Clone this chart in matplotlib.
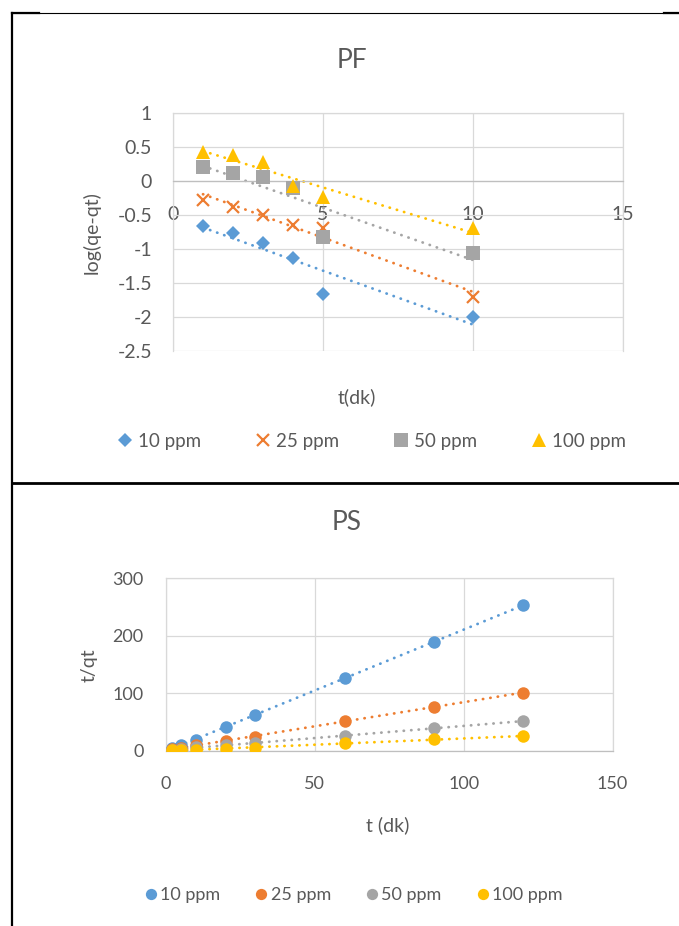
#!/usr/bin/env python3
"""PF / PS kinetik grafikleri (log(qe-qt) ve t/qt)."""

import numpy as np
import matplotlib
matplotlib.use("Agg")
import matplotlib.pyplot as plt
from matplotlib.lines import Line2D

# --- veri -------------------------------------------------------------
series_names = ["10 ppm", "25 ppm", "50 ppm", "100 ppm"]
series_colors = ["#5B9BD5", "#ED7D31", "#A5A5A5", "#FFC000"]

# PF: log(qe-qt) vs t
pf_t = [1, 2, 3, 4, 5, 10]
pf_10 = [-0.66, -0.76, -0.92, -1.13, -1.66, -2.0]
pf_25 = [-0.28, -0.38, -0.50, -0.65, -0.70, -1.70]
pf_50 = [0.20, 0.12, 0.05, -0.10, -0.82, -1.06]
pf_100 = [0.43, 0.38, 0.28, -0.07, -0.24, -0.70]

# PS: t/qt vs t
ps_t = [2, 5, 10, 20, 30, 60, 90, 120]
ps_10 = [5, 10, 18.5, 41.5, 62, 126, 190, 253]
ps_25 = [2.5, 5, 10, 17, 24, 51.5, 76.5, 101]
ps_50 = [1.5, 3, 6, 10, 13, 25.5, 38.8, 52]
ps_100 = [0.5, 1, 2, 3, 5, 12.8, 19.7, 25.5]

TXT = "#595959"
GRID = "#D9D9D9"
W, H = 679, 926


def fx(px):
    return px / W


def fy(py):
    return 1 - py / H


def trend(ax, x, y, color):
    """Excel-benzeri lineer trend çizgisi (noktalı)."""
    k, b = np.polyfit(x, y, 1)
    xs = np.array([min(x), max(x)])
    ax.plot(xs, k * xs + b, color=color, lw=2.0, ls=(0, (0.1, 2.6)),
            dash_capstyle="round", zorder=2)


def style_axes(ax, font, size):
    ax.grid(True, color=GRID, lw=0.9)
    ax.set_axisbelow(True)
    for s in ax.spines.values():
        s.set_color(GRID)
        s.set_linewidth(0.9)
    ax.tick_params(length=0, colors=TXT, labelsize=size)
    for lab in ax.get_xticklabels() + ax.get_yticklabels():
        lab.set_family(font)


def draw_pf(fig):
    ax = fig.add_axes([fx(173), fy(351), fx(623) - fx(173), fy(112.7) - fy(351)])
    markers = ["D", "x", "s", "^"]
    sizes = [7, 9, 9.5, 10]
    for ys, name, c, m, ms in zip([pf_10, pf_25, pf_50, pf_100], series_names,
                                  series_colors, markers, sizes):
        ax.plot(pf_t, ys, ls="none", marker=m, ms=ms, color=c,
                mew=1.6 if m == "x" else 0, label=name, zorder=3)
        trend(ax, pf_t, ys, c)
    ax.set_xlim(0, 15)
    ax.set_ylim(-2.5, 1)
    ax.set_xticks([0, 5, 10, 15])
    ax.set_yticks(np.arange(-2.5, 1.01, 0.5))
    ax.set_yticklabels(["-2.5", "-2", "-1.5", "-1", "-0.5", "0", "0.5", "1"])
    ax.spines["bottom"].set_position(("data", 0))
    style_axes(ax, "Lato", 14)
    ax.spines["bottom"].set_color("#BFBFBF")
    ax.tick_params(axis="x", pad=18)
    ax.tick_params(axis="y", pad=15)

    font = "Lato"
    fig.text(fx(352), fy(60), "PF", ha="center", va="center", fontsize=19,
             color=TXT, family=font)
    fig.text(fx(92), fy(233), "log(qe-qt)", ha="center", va="center",
             rotation=90, fontsize=14, color=TXT, family=font)
    fig.text(fx(357), fy(397), "t(dk)", ha="center", va="center",
             fontsize=14, color=TXT, family=font)
    handles, labels = ax.get_legend_handles_labels()
    fig.legend(handles, labels, loc="center", bbox_to_anchor=(fx(372), fy(441)),
               ncol=4, frameon=False, handlelength=0.8, handletextpad=0.3,
               columnspacing=2.9, prop={"family": font, "size": 13.5},
               labelcolor=TXT)


def draw_ps(fig):
    ax = fig.add_axes([fx(166), fy(750.7), fx(612.6) - fx(166), fy(578.3) - fy(750.7)])
    for ys, name, c in zip([ps_10, ps_25, ps_50, ps_100], series_names, series_colors):
        ax.plot(ps_t, ys, ls="none", marker="o", ms=9, color=c, mew=0,
                label=name, zorder=3)
        trend(ax, ps_t, ys, c)
    ax.set_xlim(0, 150)
    ax.set_ylim(0, 300)
    ax.set_xticks([0, 50, 100, 150])
    ax.set_yticks([0, 100, 200, 300])
    font = "Lato"
    style_axes(ax, font, 13)
    ax.spines["bottom"].set_color("#BFBFBF")
    ax.tick_params(axis="x", pad=18)
    ax.tick_params(axis="y", pad=16)

    fig.text(fx(347), fy(522), "PS", ha="center", va="center", fontsize=19,
             color=TXT, family=font)
    fig.text(fx(89.6), fy(665), "t/qt", ha="center", va="center",
             rotation=90, fontsize=14, color=TXT, family=font)
    fig.text(fx(388), fy(825), "t (dk)", ha="center", va="center",
             fontsize=14, color=TXT, family=font)
    handles, labels = ax.get_legend_handles_labels()
    fig.legend(handles, labels, loc="center", bbox_to_anchor=(fx(354), fy(895)),
               ncol=4, frameon=False, handlelength=0.6, handletextpad=0.2,
               columnspacing=2.0, prop={"family": font, "size": 13},
               labelcolor=TXT, markerscale=0.9)


def draw_borders(fig):
    """Tablo çerçevesi."""
    kw = dict(color="black", transform=fig.transFigure)
    fig.add_artist(Line2D([fx(12), 1], [fy(13), fy(13)], lw=0.8, **kw))
    fig.add_artist(Line2D([fx(12), fx(39)], [fy(13), fy(13)], lw=1.6, **kw))
    fig.add_artist(Line2D([fx(664), 1], [fy(13), fy(13)], lw=1.6, **kw))
    fig.add_artist(Line2D([fx(12), fx(12)], [fy(13), 0], lw=1.6, **kw))
    fig.add_artist(Line2D([fx(12), 1], [fy(483), fy(483)], lw=2, **kw))


def main():
    fig = plt.figure(figsize=(W / 100, H / 100), dpi=100)
    draw_pf(fig)
    draw_ps(fig)
    draw_borders(fig)
    fig.savefig("out.png", dpi=100)
    plt.close(fig)


if __name__ == "__main__":
    main()
